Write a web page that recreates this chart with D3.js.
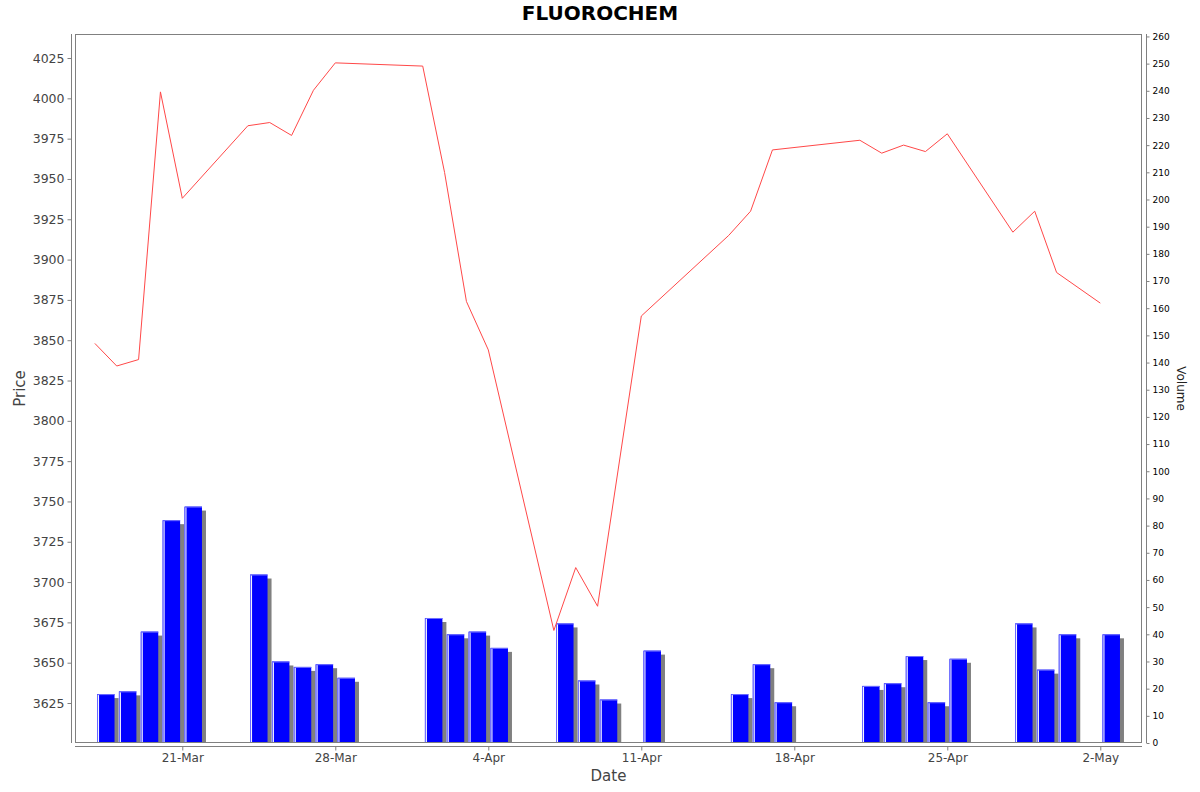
<!DOCTYPE html>
<html>
<head>
<meta charset="utf-8">
<script src="https://cdn.jsdelivr.net/npm/d3@7"></script>
<style>
  body { margin: 0; background: #fff; }
  text { font-family: "DejaVu Sans", sans-serif; }
</style>
</head>
<body>
<div id="chart"></div>
<script>
// trading days (2025)
const dates = [
  "2025-03-17", "2025-03-18", "2025-03-19", "2025-03-20", "2025-03-21",
  "2025-03-24", "2025-03-25", "2025-03-26", "2025-03-27", "2025-03-28",
  "2025-04-01", "2025-04-02", "2025-04-03", "2025-04-04",
  "2025-04-07", "2025-04-08", "2025-04-09", "2025-04-11",
  "2025-04-15", "2025-04-16", "2025-04-17",
  "2025-04-21", "2025-04-22", "2025-04-23", "2025-04-24", "2025-04-25",
  "2025-04-28", "2025-04-29", "2025-04-30", "2025-05-02"
];
const prices = [
  3848, 3834, 3838, 4004, 3938,
  3983, 3985, 3977, 4005, 4022,
  4020, 3954, 3874, 3844,
  3670, 3709, 3685, 3865,
  3915, 3930, 3968,
  3974, 3966, 3971, 3967, 3978,
  3917, 3930, 3892, 3873
];
const volumes = [
  18, 19, 41, 82, 87,
  62, 30, 28, 29, 24,
  46, 40, 41, 35,
  44, 23, 16, 34,
  18, 29, 15,
  21, 22, 32, 15, 31,
  44, 27, 40, 40
];
const dateTicks = ["2025-03-21", "2025-03-28", "2025-04-04", "2025-04-11", "2025-04-18", "2025-04-25", "2025-05-02"];
const priceTicks = d3.range(3625, 4026, 25);
const volumeTicks = d3.range(0, 261, 10);

const W = 1200, H = 792;
const pl = 75, pr = 1142, pt = 34, pb = 743;
const DAY = 864e5;
const parse = d3.utcParse("%Y-%m-%d");

const rows = dates.map((d, i) => ({ date: parse(d), price: prices[i], vol: volumes[i] }));

const x0 = +parse("2025-03-21");
const x = d3.scaleUtc()
  .domain([new Date(x0 - 4.909 * DAY), new Date(x0 + 43.908 * DAY)])
  .range([pl, pr]);
const y = d3.scaleLinear().domain([3600.2, 4039.9]).range([pb, pt]);
const yv = d3.scaleLinear().domain([0, 260.9]).range([pb, pt]);

const svg = d3.select('#chart').append('svg')
  .attr('width', W)
  .attr('height', H);

svg.append('defs').append('clipPath').attr('id', 'plot-clip')
  .append('rect')
  .attr('x', pl).attr('y', pt)
  .attr('width', pr - pl).attr('height', pb - pt);

// title
svg.append('text')
  .attr('x', 600).attr('y', 19.5)
  .attr('text-anchor', 'middle')
  .style('font-size', '20px')
  .style('font-weight', 'bold')
  .text('FLUOROCHEM');

// volume bars
let bars = svg.append('g').attr('clip-path', 'url(#plot-clip)');
let barX = d => x(new Date(+d.date + 0.1 * DAY));
let barW = d => x(new Date(+d.date + 0.9 * DAY)) - barX(d);

bars.selectAll('.shadow')
  .data(rows)
  .enter().append('rect')
  .attr('class', 'shadow')
  .attr('x', d => barX(d) + 4)
  .attr('y', d => yv(d.vol) + 4)
  .attr('width', barW)
  .attr('height', d => Math.max(0, yv(0) - yv(d.vol)))
  .attr('fill', '#808080');

bars.selectAll('.bar')
  .data(rows)
  .enter().append('rect')
  .attr('class', 'bar')
  .attr('x', barX)
  .attr('y', d => yv(d.vol))
  .attr('width', barW)
  .attr('height', d => yv(0) - yv(d.vol))
  .attr('fill', '#0000ff');

// light edge on top and left of each bar
bars.selectAll('.edge')
  .data(rows)
  .enter().append('path')
  .attr('class', 'edge')
  .attr('d', d => {
    let bx = barX(d), by = yv(d.vol);
    return 'M' + (bx + 0.5) + ',' + pb + 'V' + (by + 0.5) + 'H' + (bx + barW(d));
  })
  .attr('fill', 'none')
  .attr('stroke', '#7070ff')
  .attr('stroke-width', 1);

bars.selectAll('.gap')
  .data(rows)
  .enter().append('line')
  .attr('class', 'gap')
  .attr('x1', d => barX(d) + 1.5)
  .attr('x2', d => barX(d) + 1.5)
  .attr('y1', d => yv(d.vol) + 1)
  .attr('y2', pb)
  .attr('stroke', '#ffffff')
  .attr('stroke-width', 1);

// price line
svg.append('path')
  .datum(rows)
  .attr('clip-path', 'url(#plot-clip)')
  .attr('fill', 'none')
  .attr('stroke', '#ff4848')
  .attr('stroke-width', 1)
  .attr('d', d3.line().x(d => x(d.date)).y(d => y(d.price)));

// plot outline
svg.append('rect')
  .attr('x', pl + 0.5).attr('y', pt + 0.5)
  .attr('width', pr - pl - 1).attr('height', pb - pt - 1)
  .attr('fill', 'none')
  .attr('stroke', '#808080');

// left price axis
let ya = svg.append('g')
  .attr('transform', 'translate(71.5,0)')
  .call(d3.axisLeft(y).tickValues(priceTicks).tickFormat(d3.format('d')).tickSize(4).tickPadding(3));
ya.select('.domain').attr('stroke', '#808080').attr('d', 'M0,' + pt + 'V' + pb);
ya.selectAll('.tick line').attr('stroke', '#808080');
ya.selectAll('.tick text')
  .style('font-size', '12.5px')
  .attr('fill', '#444');

// right volume axis
let va = svg.append('g')
  .attr('transform', 'translate(1146.5,0)')
  .call(d3.axisRight(yv).tickValues(volumeTicks).tickSize(3).tickPadding(3));
va.select('.domain').attr('stroke', '#808080').attr('d', 'M0,' + pt + 'V' + pb);
va.selectAll('.tick line').attr('stroke', '#808080');
va.selectAll('.tick text')
  .style('font-size', '9px')
  .attr('fill', '#000');

// bottom date axis
let xa = svg.append('g')
  .attr('transform', 'translate(0,746.5)')
  .call(d3.axisBottom(x)
    .tickValues(dateTicks.map(parse))
    .tickFormat(d3.utcFormat('%-d-%b'))
    .tickSize(4).tickPadding(3));
xa.select('.domain').attr('stroke', '#808080').attr('d', 'M' + pl + ',0H' + pr);
xa.selectAll('.tick line').attr('stroke', '#808080');
xa.selectAll('.tick text')
  .style('font-size', '12px')
  .attr('fill', '#444');

// axis labels
svg.append('text')
  .attr('transform', 'translate(25,388.5) rotate(-90)')
  .attr('text-anchor', 'middle')
  .style('font-size', '15px')
  .attr('fill', '#444')
  .text('Price');

svg.append('text')
  .attr('x', 608.5).attr('y', 781)
  .attr('text-anchor', 'middle')
  .style('font-size', '15px')
  .attr('fill', '#444')
  .text('Date');

svg.append('text')
  .attr('transform', 'translate(1177,388.5) rotate(90)')
  .attr('text-anchor', 'middle')
  .style('font-size', '12px')
  .attr('fill', '#222')
  .text('Volume');
</script>
</body>
</html>
